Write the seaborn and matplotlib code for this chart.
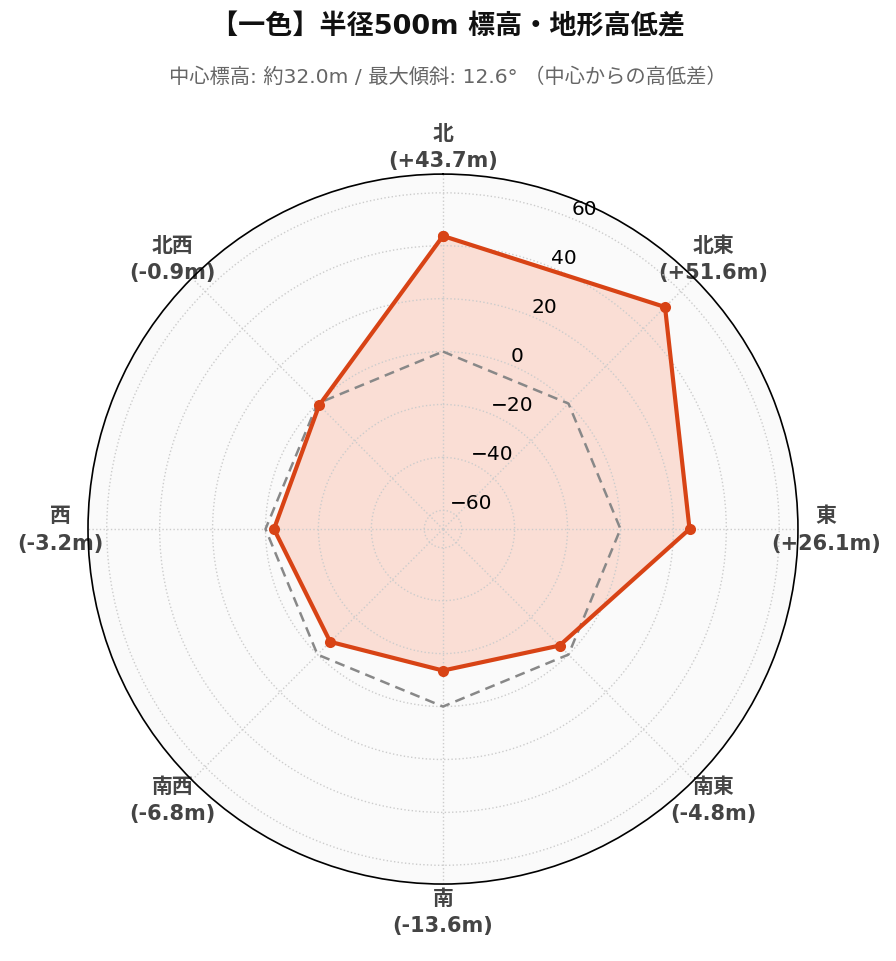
import numpy as np
import pandas as pd
import seaborn as sns
import matplotlib.pyplot as plt

directions = ['北', '北東', '東', '南東', '南', '南西', '西', '北西']
angles_deg = [0, 45, 90, 135, 180, 225, 270, 315]
diffs = [43.7, 51.6, 26.1, -4.8, -13.6, -6.8, -3.2, -0.9]
r_ticks = [-60, -40, -20, 0, 20, 40, 60]

sns.set_style('white')
plt.rcParams['font.family'] = ['DejaVu Sans', 'Noto Sans CJK JP']

line_color = '#D84315'
fill_color = '#FF5722'
rmax = max(abs(v) for v in diffs) * 1.3

theta = np.deg2rad(angles_deg)
df = pd.DataFrame({'theta': list(theta) + [theta[0]],
                   'diff': diffs + [diffs[0]],
                   'zero': [0] * (len(diffs) + 1)})

fig = plt.figure(figsize=(8.96, 9.62), dpi=100)
ax = fig.add_axes([0.0982, 0.0800, 0.7924, 0.7380], projection='polar')
ax.set_theta_zero_location('N')
ax.set_theta_direction(-1)
ax.set_facecolor('#fafafa')
ax.set_axisbelow('line')

ax.fill(df['theta'], df['diff'], color=fill_color, alpha=0.17, zorder=1,
        linewidth=0)
sns.lineplot(data=df, x='theta', y='zero', sort=False, ax=ax,
             color='#888888', linestyle=(0, (4, 2.5)), linewidth=1.8,
             estimator=None, zorder=2)
sns.lineplot(data=df, x='theta', y='diff', sort=False, ax=ax, estimator=None,
             color=line_color, linewidth=3, marker='o', markersize=8,
             markeredgewidth=0, zorder=3)

ax.set_ylim(-rmax, rmax)
ax.set_yticks(r_ticks)
ax.set_yticklabels([f'\u2212{abs(t)}' if t < 0 else str(t) for t in r_ticks],
                   fontsize=14.5, color='black')
ax.set_rlabel_position(22.5)

labels = [f'{d}\n({v:+.1f}m)' for d, v in zip(directions, diffs)]
ax.set_xticks(theta)
ax.set_xticklabels(labels, fontsize=15, fontweight='bold', color='#444444',
                   linespacing=1.45)
ax.tick_params(axis='x', pad=13, size=0)

ax.grid(True, color='#cccccc', linestyle=':', linewidth=1)
ax.spines['polar'].set_color('black')
ax.spines['polar'].set_linewidth(1.2)
ax.set_xlabel('')
ax.set_ylabel('')

fig.text(0.5, 0.971, '【一色】半径500m 標高・地形高低差', ha='center', va='center',
         fontsize=19.5, fontweight='bold', color='#111111')
fig.text(0.5, 0.920, '中心標高: 約32.0m / 最大傾斜: 12.6° （中心からの高低差）',
         ha='center', va='center', fontsize=14.6, color='#666666')

fig.savefig('out.png', dpi=100)
